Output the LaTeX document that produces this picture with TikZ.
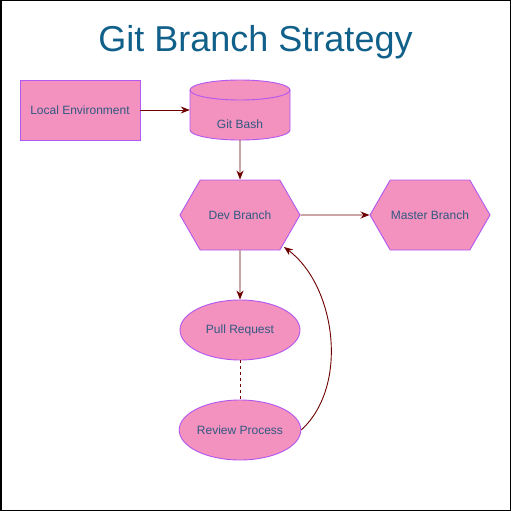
\documentclass[tikz,border=0pt]{standalone}
\usepackage{fontspec}
\setmainfont{Liberation Sans}
\usetikzlibrary{shapes.geometric,shapes.symbols,arrows.meta}
\definecolor{boxfill}{RGB}{243,145,191}
\definecolor{boxline}{RGB}{178,88,240}
\definecolor{linkred}{RGB}{110,0,0}
\definecolor{titleblue}{RGB}{16,96,138}
\definecolor{labelblue}{RGB}{48,90,128}

\begin{document}
\begin{tikzpicture}[x=1pt, y=-1pt,
    box/.style={draw=boxline, fill=boxfill, text=labelblue, line width=0.9pt, inner sep=0pt, font=\fontsize{12}{14}\selectfont},
    link/.style={draw=linkred, line width=0.9pt, -{Stealth[length=9pt,width=7pt]}}]
    \useasboundingbox (0,0) rectangle (511,511);
    \draw[line width=1.5pt] (0.75,0.75) rectangle (510.25,510.25);
    \node[text=titleblue, font=\fontsize{36}{42}\selectfont] (title) at (255.5,42) {Git Branch Strategy};
    \node[box, rectangle, minimum width=120, minimum height=60] (local) at (80,110) {Local Environment};
    \node[minimum width=100, minimum height=60, inner sep=0pt] (bash) at (240,110) {};
    \draw[draw=boxline, fill=boxfill, line width=0.9pt] (190,90) -- (190,130)
        arc[start angle=180, end angle=0, x radius=50, y radius=10] -- (290,90)
        arc[start angle=0, end angle=-180, x radius=50, y radius=10] -- cycle;
    \draw[draw=boxline, line width=0.9pt] (190,90) arc[start angle=180, end angle=0, x radius=50, y radius=10];
    \node[text=labelblue, font=\fontsize{12}{14}\selectfont] (bashtext) at (240,124) {Git Bash};
    \node[box, signal, signal to=west and east, signal pointer angle=120, minimum width=120, minimum height=70] (dev) at (240,215) {Dev Branch};
    \node[box, signal, signal to=west and east, signal pointer angle=120, minimum width=120, minimum height=70] (master) at (430,215) {Master Branch};
    \node[box, ellipse, minimum width=120, minimum height=60] (pull) at (240,330) {Pull Request};
    \node[box, ellipse, minimum width=120, minimum height=60] (review) at (240,430) {Review Process};
    \coordinate (devin) at (284,247);
    \draw[link] (local) -- (bash);
    \draw[link] (bash) -- (dev);
    \draw[link] (dev) -- (master);
    \draw[link] (dev) -- (pull);
    \draw[draw=linkred, line width=0.9pt, dash pattern=on 3pt off 3pt] (pull) -- (review);
    \draw[link] (review.east) .. controls (350,385) and (335,285) .. (devin);
\end{tikzpicture}
\end{document}
